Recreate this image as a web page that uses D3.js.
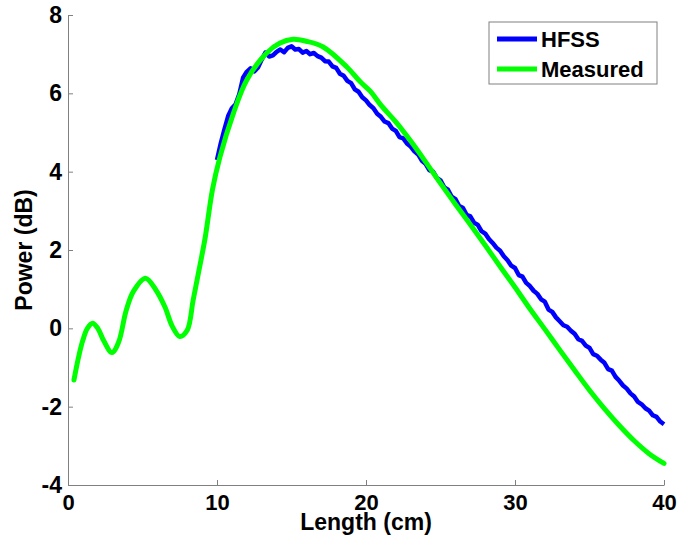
<!DOCTYPE html>
<html>
<head>
<meta charset="utf-8">
<script src="https://cdn.jsdelivr.net/npm/d3@7"></script>
<style>
  body { margin: 0; background: #fff; }
  text { font-family: "Liberation Sans", Arial, sans-serif; font-weight: bold; fill: #000; }
</style>
</head>
<body>
<div id="chart"></div>
<script>
// Measured curve (smooth)
var measuredX = [0.4, 0.7, 1.0, 1.3, 1.65, 2.0, 2.4, 2.95, 3.4, 3.9, 4.4, 5.2, 5.9, 6.5, 7.0, 7.5, 8.0, 8.4, 8.8, 9.2, 9.7, 10.2, 11.1, 12.0, 13.3, 14.2, 15.1, 16.0, 17.1, 18.7, 19.6, 20.3, 21, 22, 23, 24, 25, 26, 27, 28, 29, 30, 31, 32, 33, 34, 35, 36, 37, 38, 39, 40];
var measuredY = [-1.32, -0.75, -0.30, 0.0, 0.13, 0.0, -0.32, -0.62, -0.35, 0.45, 0.95, 1.28, 0.98, 0.55, 0.05, -0.21, -0.05, 0.72, 1.5, 2.3, 3.55, 4.38, 5.49, 6.34, 7.02, 7.28, 7.38, 7.33, 7.19, 6.68, 6.3, 6.05, 5.7, 5.27, 4.78, 4.25, 3.70, 3.17, 2.65, 2.12, 1.58, 1.05, 0.50, -0.02, -0.55, -1.07, -1.58, -2.05, -2.48, -2.87, -3.2, -3.45];

// HFSS simulation (noisy)
var hfssX = [10.0, 10.25, 10.5, 10.75, 11.0, 11.25, 11.5, 11.75, 12.0, 12.25, 12.5, 12.75, 13.0, 13.25, 13.5, 13.75, 14.0, 14.25, 14.5, 14.75,
  15.0, 15.25, 15.5, 15.75, 16.0, 16.25, 16.5, 16.75, 17.0, 17.25, 17.5, 17.75, 18.0, 18.25, 18.5, 18.75, 19.0, 19.25, 19.5, 19.75,
  20.0, 20.25, 20.5, 20.75, 21.0, 21.25, 21.5, 21.75, 22.0, 22.25, 22.5, 22.75, 23.0, 23.25, 23.5, 23.75, 24.0, 24.25, 24.5, 24.75,
  25.0, 25.25, 25.5, 25.75, 26.0, 26.25, 26.5, 26.75, 27.0, 27.25, 27.5, 27.75, 28.0, 28.25, 28.5, 28.75, 29.0, 29.25, 29.5, 29.75,
  30.0, 30.25, 30.5, 30.75, 31.0, 31.25, 31.5, 31.75, 32.0, 32.25, 32.5, 32.75, 33.0, 33.25, 33.5, 33.75, 34.0, 34.25, 34.5, 34.75,
  35.0, 35.25, 35.5, 35.75, 36.0, 36.25, 36.5, 36.75, 37.0, 37.25, 37.5, 37.75, 38.0, 38.25, 38.5, 38.75, 39.0, 39.25, 39.5, 39.75, 40.0];
var hfssY = [4.30, 4.72, 5.08, 5.42, 5.62, 5.72, 5.98, 6.40, 6.55, 6.64, 6.56, 6.66, 6.86, 7.04, 6.94, 6.97, 7.06, 7.12, 7.05, 7.16,
  7.20, 7.12, 7.13, 7.04, 7.08, 7.00, 7.03, 6.95, 6.91, 6.82, 6.81, 6.69, 6.65, 6.50, 6.45, 6.32, 6.26, 6.10, 6.04, 5.90,
  5.82, 5.70, 5.62, 5.48, 5.40, 5.28, 5.24, 5.10, 5.04, 4.88, 4.85, 4.72, 4.64, 4.52, 4.44, 4.28, 4.20, 4.04, 4.00, 3.84,
  3.78, 3.60, 3.54, 3.36, 3.30, 3.12, 3.08, 2.90, 2.86, 2.70, 2.64, 2.48, 2.42, 2.28, 2.18, 2.06, 1.98, 1.84, 1.74, 1.60,
  1.54, 1.36, 1.32, 1.16, 1.08, 0.96, 0.88, 0.74, 0.68, 0.48, 0.42, 0.28, 0.18, 0.08, 0.04, -0.06, -0.14, -0.28, -0.32, -0.44,
  -0.50, -0.66, -0.70, -0.80, -0.88, -1.04, -1.08, -1.24, -1.34, -1.46, -1.54, -1.66, -1.74, -1.88, -1.94, -2.04, -2.10, -2.22, -2.26, -2.38, -2.45];

var xTicks = [0, 10, 20, 30, 40];
var yTicks = [-4, -2, 0, 2, 4, 6, 8];
var seriesNames = ["HFSS", "Measured"];
var seriesColors = ["#0000ff", "#00ff00"];

var margin = { top: 15, right: 13, bottom: 57, left: 68 },
    width = 677 - margin.left - margin.right,
    height = 542 - margin.top - margin.bottom;

var svg = d3.select("#chart")
    .append("svg")
    .attr("width", 677)
    .attr("height", 542)
    .append("g")
    .attr("transform", "translate(" + margin.left + "," + margin.top + ")");

var x = d3.scaleLinear().domain([0, 40]).range([0, width]);
var y = d3.scaleLinear().domain([-4, 8]).range([height, 0]);

// plain hyphen for negatives, like the original figure
var fmt = function (d) { return String(d); };

// X axis (ticks inward)
var xAxis = svg.append("g")
    .attr("transform", "translate(0," + height + ")")
    .call(d3.axisBottom(x).tickValues(xTicks).tickFormat(fmt).tickSize(-5).tickPadding(9).tickSizeOuter(0));
xAxis.selectAll("text").style("font-size", "22px").attr("dy", "0.71em");

// Y axis
var yAxis = svg.append("g")
    .call(d3.axisLeft(y).tickValues(yTicks).tickFormat(fmt).tickSize(-5).tickPadding(6).tickSizeOuter(0));
yAxis.selectAll("text").style("font-size", "23px");

svg.selectAll(".domain, .tick line").attr("stroke", "#808080");
svg.selectAll(".tick text").attr("fill", "#000");

// axis labels
svg.append("text")
    .attr("text-anchor", "middle")
    .attr("x", x(20))
    .attr("y", height + 45)
    .style("font-size", "23px")
    .text("Length (cm)");

svg.append("text")
    .attr("text-anchor", "middle")
    .attr("transform", "rotate(-90)")
    .attr("x", -y(2))
    .attr("y", -36)
    .style("font-size", "23px")
    .text("Power (dB)");

var line = d3.line()
    .x(function (d) { return x(d[0]); })
    .y(function (d) { return y(d[1]); });

var hfss = hfssX.map(function (v, i) { return [v, hfssY[i]]; });
var measured = measuredX.map(function (v, i) { return [v, measuredY[i]]; });

svg.append("path")
    .datum(hfss)
    .attr("fill", "none")
    .attr("stroke", seriesColors[0])
    .attr("stroke-width", 4.5)
    .attr("stroke-linejoin", "round")
    .attr("d", line);

svg.append("path")
    .datum(measured)
    .attr("fill", "none")
    .attr("stroke", seriesColors[1])
    .attr("stroke-width", 5)
    .attr("stroke-linecap", "round")
    .attr("d", line.curve(d3.curveCatmullRom));

// Legend
var legend = svg.append("g").attr("transform", "translate(" + (489 - margin.left) + "," + (22 - margin.top) + ")");
legend.append("rect")
    .attr("width", 168)
    .attr("height", 62)
    .attr("fill", "#fff")
    .attr("stroke", "#808080");
legend.selectAll("line")
    .data(seriesNames)
    .enter()
    .append("line")
    .attr("x1", 8)
    .attr("x2", 48)
    .attr("y1", function (d, i) { return 17 + i * 30; })
    .attr("y2", function (d, i) { return 17 + i * 30; })
    .attr("stroke", function (d, i) { return seriesColors[i]; })
    .attr("stroke-width", 5);
legend.selectAll("text")
    .data(seriesNames)
    .enter()
    .append("text")
    .attr("x", 52)
    .attr("y", function (d, i) { return 25 + i * 30; })
    .style("font-size", "22px")
    .text(function (d) { return d; });
</script>
</body>
</html>
